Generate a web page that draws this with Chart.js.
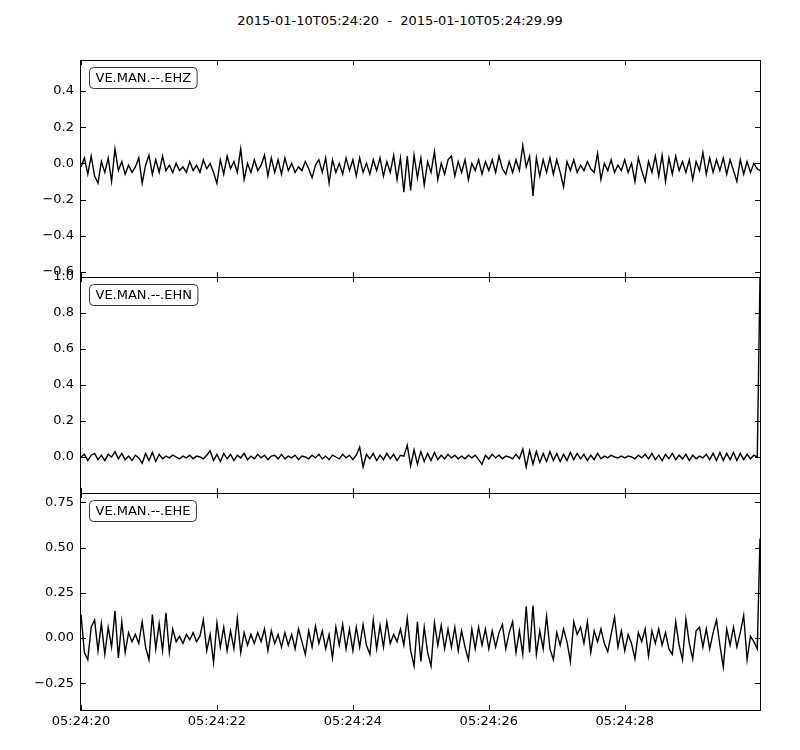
<!DOCTYPE html>
<html>
<head>
<meta charset="utf-8">
<script src="https://cdn.jsdelivr.net/npm/chart.js@4/dist/chart.umd.min.js"></script>
<style>
    body { margin: 0; background: #fff; }
    #wrap { position: relative; width: 800px; height: 750px; overflow: hidden; }
    #wrap canvas { position: absolute; left: 0; }
    #title { position: absolute; left: 0; top: 13px; width: 800px; text-align: center;
             font: 13px "DejaVu Sans"; line-height: 16px; color: #000; }
</style>
</head>
<body>
<div id="wrap">
    <div id="title">2015-01-10T05:24:20&nbsp; - &nbsp;2015-01-10T05:24:29.99</div>
    <canvas id="ehzChart" width="800" height="300" style="top:0px"></canvas>
    <canvas id="ehnChart" width="800" height="270" style="top:250px"></canvas>
    <canvas id="eheChart" width="800" height="284" style="top:466px"></canvas>
</div>
<script>
// seconds after 05:24:20, one sample every 0.05 s, last sample at 9.99 s
const sampleStep = 0.05;
const lastTime = 9.99;

const xTickValues = [0, 2, 4, 6, 8];
const xTickLabels = ['05:24:20', '05:24:22', '05:24:24', '05:24:26', '05:24:28'];

const channels = ['VE.MAN.--.EHZ', 'VE.MAN.--.EHN', 'VE.MAN.--.EHE'];

const ehzTicks = [-0.6, -0.4, -0.2, 0.0, 0.2, 0.4];
const ehnTicks = [0.0, 0.2, 0.4, 0.6, 0.8, 1.0];
const eheTicks = [-0.25, 0.0, 0.25, 0.5, 0.75];

const ehz = [
    -0.02, 0.03, -0.06, 0.04, -0.07, -0.11, 0.01, -0.05, 0.03, -0.10, 0.08, -0.04, 0.01, -0.06, -0.01, -0.05, -0.02, 0.03, -0.11, -0.01,
    0.045, -0.06, 0.02, -0.05, 0.04, -0.04, -0.01, -0.05, 0.0, -0.04, -0.02, -0.05, 0.01, -0.04, -0.01, -0.05, 0.02, -0.03, 0.0, -0.05,
    -0.11, 0.02, -0.06, 0.04, -0.03, 0.01, -0.05, 0.08, -0.09, 0.0, -0.05, 0.02, -0.04, -0.01, 0.045, -0.07, 0.03, -0.05, 0.02, -0.06,
    0.03, -0.04, 0.0, -0.05, -0.02, -0.04, 0.01, -0.03, -0.08, -0.01, 0.02, -0.05, 0.03, -0.11, 0.02, -0.05, 0.0, -0.06, 0.03, -0.04,
    0.02, -0.07, 0.03, -0.05, 0.0, -0.06, 0.02, -0.04, 0.03, -0.07, 0.01, -0.05, 0.045, -0.09, 0.03, -0.16, 0.04, -0.15, 0.045, -0.08,
    0.03, -0.12, 0.01, -0.05, 0.065, -0.09, 0.0, -0.06, 0.02, 0.04, -0.07, 0.01, -0.05, 0.02, -0.09, 0.0, -0.04, 0.02, -0.06, 0.01,
    -0.04, 0.02, -0.05, 0.04, -0.03, -0.06, 0.01, -0.05, 0.02, -0.04, 0.10, -0.02, 0.04, -0.18, 0.03, -0.07, 0.02, -0.05, 0.03, -0.06,
    0.02, -0.05, -0.13, 0.01, -0.04, 0.02, -0.05, -0.01, -0.04, 0.01, -0.03, -0.05, 0.055, -0.09, 0.0, -0.04, 0.02, -0.05, -0.01, -0.04,
    0.02, -0.05, 0.0, -0.10, 0.03, -0.04, -0.10, 0.01, -0.05, 0.04, -0.07, 0.045, -0.10, 0.03, -0.06, 0.04, -0.04, 0.01, -0.05, 0.02,
    -0.09, 0.01, -0.04, 0.06, -0.06, 0.03, -0.05, 0.02, -0.04, 0.03, -0.06, 0.02, -0.04, -0.10, 0.02, -0.06, 0.01, -0.05, 0.0, -0.03,
    -0.04
];

const ehn = [
    0.0, 0.015, -0.02, 0.01, 0.02, -0.015, 0.01, -0.02, 0.015, 0.0, 0.03, -0.01, 0.02, -0.015, 0.005, -0.02, 0.01, -0.005, -0.035, 0.02,
    -0.02, 0.025, -0.025, 0.015, -0.01, 0.005, -0.005, 0.01, 0.0, -0.01, 0.005, -0.005, 0.01, -0.01, 0.005, 0.0, -0.01, 0.01, 0.035, -0.02,
    0.015, -0.025, 0.02, -0.01, 0.015, -0.02, 0.01, -0.005, 0.02, -0.015, 0.005, -0.01, 0.015, -0.005, 0.01, -0.015, 0.005, 0.01, -0.01, 0.015,
    -0.01, 0.005, -0.005, 0.01, -0.015, 0.005, 0.0, -0.01, 0.01, -0.005, 0.015, -0.01, 0.005, -0.015, 0.01, 0.0, -0.01, 0.015, -0.005, 0.01,
    -0.015, 0.01, 0.055, -0.055, 0.015, -0.01, 0.02, -0.02, 0.01, -0.015, 0.02, -0.01, 0.015, -0.02, 0.01, 0.005, 0.065, -0.05, 0.04, -0.04,
    0.03, -0.025, 0.02, -0.02, 0.025, -0.015, 0.01, -0.01, 0.015, -0.005, 0.01, -0.01, 0.005, -0.01, 0.01, -0.005, 0.01, -0.015, -0.04, 0.01,
    -0.01, 0.015, -0.005, 0.01, -0.01, 0.005, 0.0, -0.01, 0.015, -0.01, 0.045, -0.055, 0.035, -0.04, 0.03, -0.03, 0.02, -0.025, 0.03, -0.02,
    0.02, -0.025, 0.015, -0.02, 0.025, -0.015, 0.02, -0.01, 0.015, -0.02, 0.01, -0.015, 0.02, -0.01, 0.005, -0.005, 0.01, 0.0, -0.005, 0.005,
    -0.005, 0.005, 0.0, -0.01, 0.01, -0.005, 0.015, -0.01, 0.02, -0.015, 0.01, -0.02, 0.015, -0.01, 0.02, -0.015, 0.01, -0.01, 0.015, -0.02,
    0.01, -0.01, 0.005, -0.005, 0.015, -0.015, 0.02, -0.02, 0.025, -0.02, 0.02, -0.015, 0.025, -0.02, 0.02, -0.015, 0.015, -0.01, 0.01, 0.0,
    1.0
];

const ehe = [
    0.13, -0.08, -0.12, 0.06, 0.10, -0.07, 0.08, -0.09, 0.06, -0.05, 0.15, -0.11, 0.09, -0.08, 0.03, -0.02, 0.02, -0.03, 0.09, -0.05,
    -0.12, 0.13, -0.06, 0.08, -0.07, 0.14, -0.08, 0.05, -0.02, 0.01, -0.03, 0.02, -0.01, 0.03, -0.02, 0.01, 0.10, -0.07, 0.02, -0.135,
    0.085, -0.05, 0.06, -0.07, 0.04, -0.06, 0.11, -0.08, 0.03, -0.04, 0.02, -0.03, 0.03, -0.02, 0.05, -0.07, 0.04, -0.03, 0.02, -0.05,
    0.03, -0.04, 0.02, -0.06, 0.05, -0.02, -0.09, 0.04, -0.05, 0.065, -0.03, 0.04, -0.06, 0.02, -0.11, 0.06, -0.04, 0.075, -0.06, 0.05,
    -0.07, 0.06, -0.05, 0.075, -0.04, -0.09, 0.10, -0.06, 0.07, -0.05, 0.09, -0.03, 0.02, -0.02, 0.05, -0.04, 0.11, -0.07, -0.155, 0.09,
    -0.13, 0.06, -0.08, -0.155, 0.085, -0.04, 0.07, -0.06, 0.05, -0.05, 0.06, -0.07, 0.04, -0.05, -0.12, 0.05, -0.06, 0.06, -0.04, 0.05,
    -0.06, 0.04, -0.05, 0.03, 0.075, -0.06, 0.03, 0.09, -0.08, 0.04, -0.09, 0.175, -0.08, 0.18, -0.09, 0.04, -0.06, 0.12, -0.06, -0.12,
    0.03, -0.04, 0.05, -0.02, -0.13, 0.09, 0.02, 0.06, -0.03, 0.09, -0.08, 0.04, -0.02, 0.05, -0.03, -0.075, 0.02, 0.115, -0.05, 0.04,
    -0.07, 0.02, -0.03, -0.115, 0.03, -0.02, 0.05, -0.10, 0.04, -0.03, 0.05, -0.04, 0.03, -0.06, -0.09, 0.09, -0.04, -0.12, 0.105, -0.03,
    -0.115, 0.04, 0.06, -0.05, 0.05, -0.06, 0.03, 0.10, -0.04, -0.16, 0.05, -0.04, 0.06, -0.05, 0.03, 0.125, -0.12, 0.01, -0.02, -0.06,
    0.55
];

Chart.defaults.font.family = '"DejaVu Sans"';
Chart.defaults.font.size = 13;
Chart.defaults.color = '#000';

const fmt = (v, d) => v.toFixed(d).replace('-', '\u2212');

makePanel = (canvasId, label, values, yMin, yMax, yTicks, decimals, padTop, padBottom, showTime) => {

    const points = values.map((v, i) => ({ x: Math.min(i * sampleStep, lastTime), y: v }));

    // frame, inward ticks on all four sides, station label box
    const panelDecor = {
        id: 'panelDecor',
        afterDraw(chart) {
            const { ctx, chartArea: a, scales } = chart;
            ctx.save();
            ctx.strokeStyle = '#000';
            ctx.lineWidth = 1;
            ctx.strokeRect(a.left - 0.5, a.top + 0.5, a.right - a.left + 1, a.bottom - a.top);
            ctx.beginPath();
            xTickValues.forEach(v => {
                const px = Math.round(scales.x.getPixelForValue(v)) + 0.5;
                ctx.moveTo(px, a.top); ctx.lineTo(px, a.top + 5);
                ctx.moveTo(px, a.bottom); ctx.lineTo(px, a.bottom - 5);
            });
            yTicks.forEach(v => {
                const py = Math.round(scales.y.getPixelForValue(v)) + 0.5;
                ctx.moveTo(a.left, py); ctx.lineTo(a.left + 5, py);
                ctx.moveTo(a.right, py); ctx.lineTo(a.right - 5, py);
            });
            ctx.stroke();

            ctx.font = '13px "DejaVu Sans"';
            const w = ctx.measureText(label).width + 12;
            ctx.beginPath();
            ctx.roundRect(a.left + 8.5, a.top + 7.5, w, 21, 4);
            ctx.fillStyle = '#fff';
            ctx.fill();
            ctx.strokeStyle = '#333';
            ctx.stroke();
            ctx.fillStyle = '#000';
            ctx.textBaseline = 'middle';
            ctx.fillText(label, a.left + 14.5, a.top + 18.5);
            ctx.restore();
        }
    };

    const config = {
        type: 'line',
        data: {
            datasets: [{
                data: points,
                borderColor: '#000',
                borderWidth: 1.4,
                pointRadius: 0,
                tension: 0,
                fill: false
            }]
        },
        options: {
            responsive: false,
            animation: false,
            events: [],
            layout: { padding: { left: 0, right: 40, top: padTop, bottom: padBottom } },
            plugins: { legend: { display: false }, tooltip: { enabled: false } },
            scales: {
                x: {
                    type: 'linear',
                    min: 0,
                    max: lastTime,
                    display: showTime,
                    grid: { display: false, drawTicks: false },
                    border: { display: false },
                    afterBuildTicks: scale => { scale.ticks = xTickValues.map(v => ({ value: v })); },
                    afterFit: scale => { scale.height = showTime ? 40 : 0; },
                    ticks: {
                        padding: 4,
                        maxRotation: 0,
                        autoSkip: false,
                        callback: v => xTickLabels[xTickValues.indexOf(v)]
                    }
                },
                y: {
                    type: 'linear',
                    min: yMin,
                    max: yMax,
                    grid: { display: false, drawTicks: false },
                    border: { display: false },
                    afterBuildTicks: scale => { scale.ticks = yTicks.map(v => ({ value: v })); },
                    afterFit: scale => { scale.width = 81; },
                    ticks: {
                        padding: 7,
                        autoSkip: false,
                        callback: v => fmt(v, decimals)
                    }
                }
            }
        },
        plugins: [panelDecor]
    };

    return new Chart(document.getElementById(canvasId), config);
}

let ehzChart = makePanel('ehzChart', channels[0], ehz, -0.628, 0.571, ehzTicks, 1, 60, 23, false);
let ehnChart = makePanel('ehnChart', channels[1], ehn, -0.2, 1.0, ehnTicks, 1, 27, 27, false);
let eheChart = makePanel('eheChart', channels[2], ehe, -0.398, 0.802, eheTicks, 2, 27, 0, true);
</script>
</body>
</html>
